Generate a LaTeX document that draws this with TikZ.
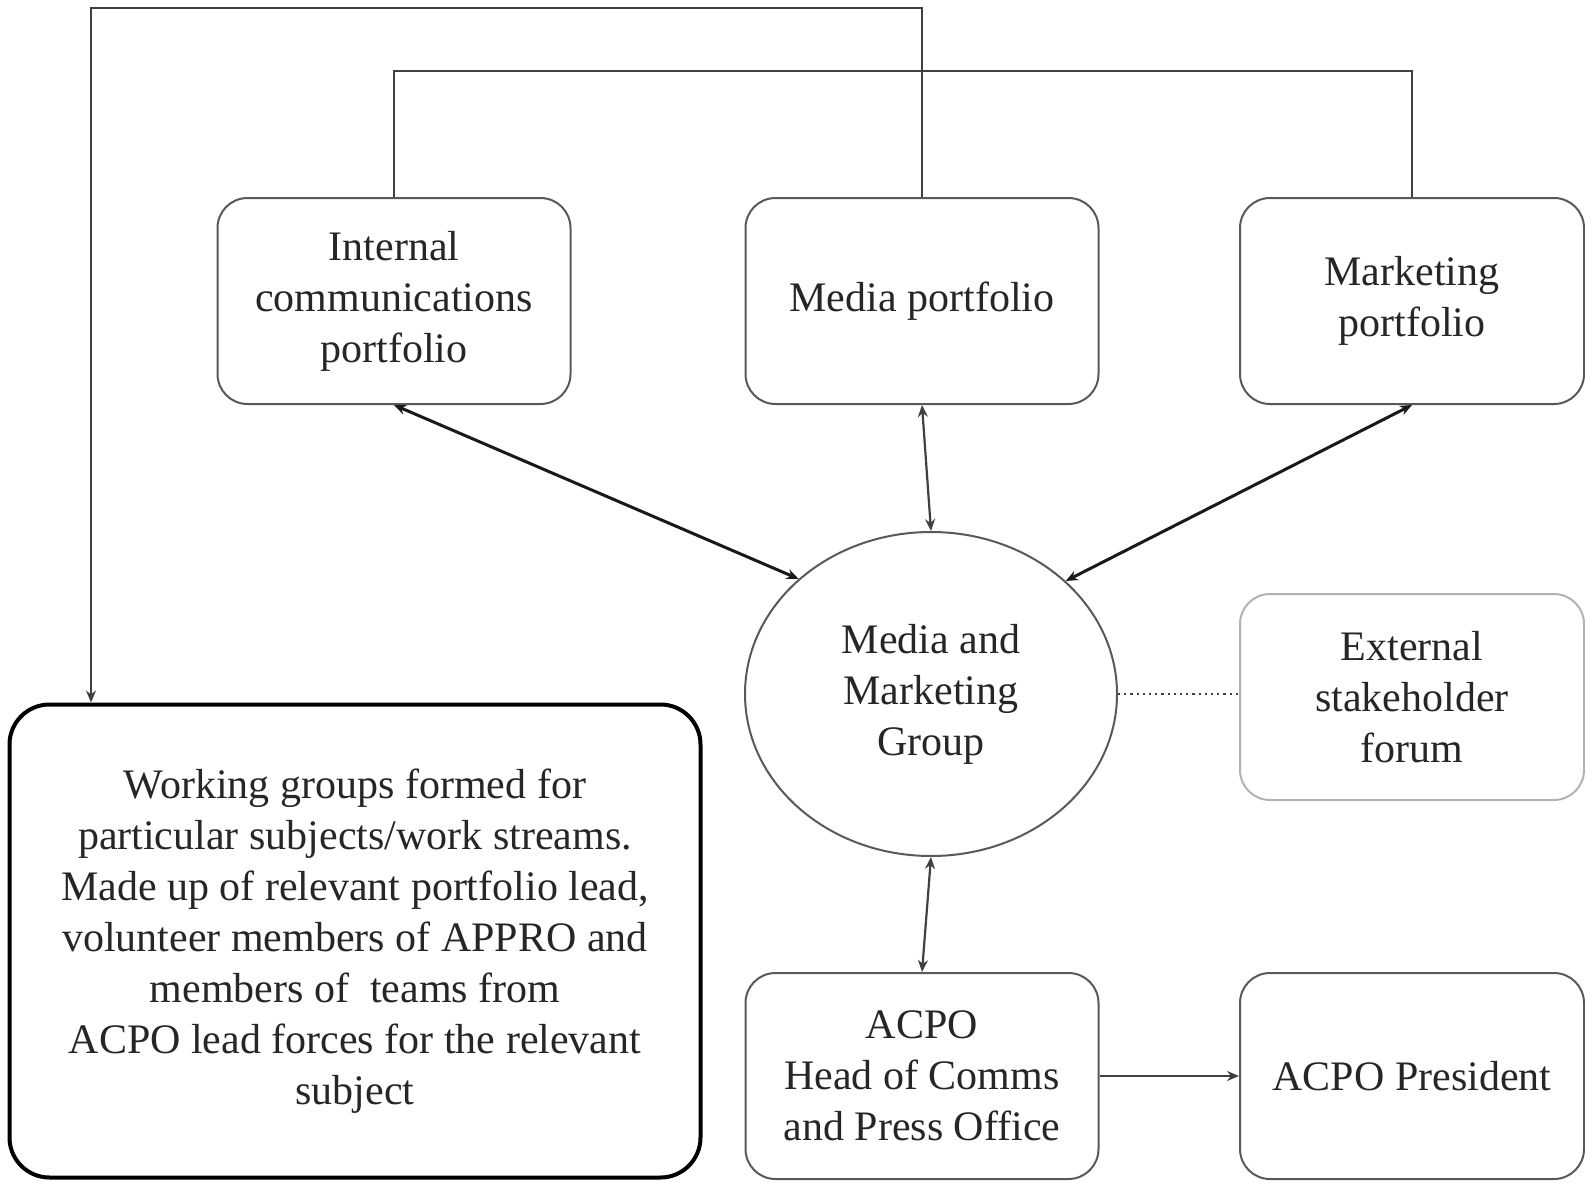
\documentclass[tikz,border=0pt]{standalone}
\usepackage{fontspec}
\setmainfont{Liberation Serif}
\usetikzlibrary{arrows.meta,shapes.geometric}

\begin{document}
\begin{tikzpicture}[x=0.5pt,y=-0.5pt,>={Stealth[length=6pt,width=5pt]}]
	\tikzstyle{every node}=[font=\fontsize{21}{25.5}\selectfont,align=center,text=black!85]
	\tikzstyle{portbox}=[draw=black!65,line width=1pt,rounded corners=15pt,
	minimum width=176.5pt,minimum height=103pt]
	\tikzstyle{rightbox}=[portbox,minimum width=172pt]
	\tikzstyle{link}=[draw=black!75,line width=1.1pt]
	\tikzstyle{boldlink}=[draw=black!90,line width=1.5pt]
	\useasboundingbox (0,0) rectangle (1585,1183);
	% portfolios
	\node[portbox] (intport) at (394,301) {Internal\\communications\\portfolio};
	\node[portbox] (medport) at (922,301) {Media portfolio};
	\node[rightbox] (mktport) at (1412,301) {Marketing\\portfolio};
	% group and forum
	\node[ellipse,draw=black!65,line width=1pt,minimum width=186pt,minimum height=162pt] (mmg) at (931,694) {Media and\\Marketing\\Group};
	\node[rightbox,draw=black!30] (extforum) at (1412,697) {External\\stakeholder\\forum};
	\node[draw=black,line width=2pt,rounded corners=20pt,minimum width=345.5pt,minimum height=236.5pt] (wgroups) at (355,941)
	{Working groups formed for\\particular subjects/work streams.\\Made up of relevant portfolio lead,\\volunteer members of APPRO and\\members of \ teams from\\ACPO lead forces for the relevant\\subject};
	\node[portbox] (acpohead) at (922,1076) {ACPO\\Head of Comms\\and Press Office};
	\node[rightbox] (acpopres) at (1412,1076) {ACPO President};
	% top lines
	\coordinate (topleft) at (91,8);
	\coordinate (midbar) at (0,71);
	\draw[link,->] (medport.north) |- (topleft) -- (topleft |- wgroups.north);
	\draw[link] (intport.north) -- (intport.north |- midbar) -| (mktport.north);
	% arrows
	\draw[boldlink,<->] (intport.south) -- (mmg.139);
	\draw[boldlink,<->] (mktport.south) -- (mmg.40);
	\draw[link,<->] (medport.south) -- (mmg.north);
	\draw[link,<->] (mmg.south) -- (acpohead.north);
	\draw[link,->] (acpohead.east) -- (acpopres.west);
	\draw[link,dotted] (mmg.east) -- (mmg.east -| extforum.west);
\end{tikzpicture}
\end{document}
